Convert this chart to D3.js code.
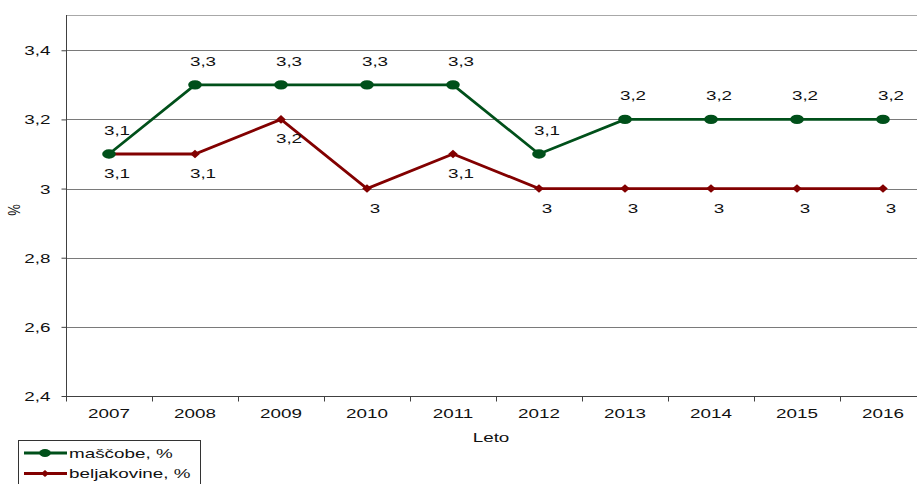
<!DOCTYPE html>
<html>
<head>
<meta charset="utf-8">
<script src="https://cdn.jsdelivr.net/npm/d3@7"></script>
<style>
  html, body { margin: 0; padding: 0; background: #fff; }
  svg { display: block; font-family: "Liberation Sans", Arial, sans-serif; }
</style>
</head>
<body>
<svg id="chart" width="917" height="484"></svg>
<script>
// Yearly shares (%) of fat and protein
const years = ["2007", "2008", "2009", "2010", "2011", "2012", "2013", "2014", "2015", "2016"];
const fatValues = [3.1, 3.3, 3.3, 3.3, 3.3, 3.1, 3.2, 3.2, 3.2, 3.2];
const proteinValues = [3.1, 3.1, 3.2, 3.0, 3.1, 3.0, 3.0, 3.0, 3.0, 3.0];
const yTicks = [2.4, 2.6, 2.8, 3.0, 3.2, 3.4];
const seriesNames = ["maščobe, %", "beljakovine, %"];

const fatColor = "#00501a";
const proteinColor = "#820000";
const textColor = "#111";
const SX = 1.45;          // wide horizontal stretch of the whole drawing
const FONT = 13;

const svg = d3.select("#chart");
const plot = { left: 66, right: 926, top: 15, bottom: 396 };

const x = d3.scaleBand().domain(years).range([plot.left, plot.right]);
const y = d3.scaleLinear().domain([2.4, 3.5]).range([plot.bottom, plot.top + 0.7]);
const cx = d => x(d) + x.bandwidth() / 2;
const fmt = v => d3.format(".1~f")(v).replace(".", ",");

// text placed at (px, py), stretched horizontally around its anchor
function wideText(parent, px, py, str, anchor) {
  return parent.append("text")
    .attr("transform", `translate(${px},${py}) scale(${SX},1)`)
    .attr("text-anchor", anchor || "middle")
    .attr("font-size", FONT).attr("fill", textColor)
    .text(str);
}

// plot frame top edge
svg.append("line")
  .attr("x1", plot.left).attr("x2", plot.right)
  .attr("y1", plot.top + 0.5).attr("y2", plot.top + 0.5)
  .attr("stroke", "#a8a8a8").attr("stroke-width", 1.2);

// horizontal gridlines
svg.append("g").selectAll("line").data(yTicks.slice(1)).join("line")
  .attr("x1", plot.left).attr("x2", plot.right)
  .attr("y1", d => Math.round(y(d)) + 0.5).attr("y2", d => Math.round(y(d)) + 0.5)
  .attr("stroke", "#7a7a7a").attr("stroke-width", 1);

// y axis
const yAxis = svg.append("g")
  .attr("transform", `translate(${plot.left + 0.5},0)`)
  .call(d3.axisLeft(y).tickValues(yTicks).tickSize(5).tickFormat(fmt));
yAxis.select(".domain").attr("stroke", "#404040").attr("d", `M0,${plot.top}V${plot.bottom}`);
yAxis.selectAll(".tick line").attr("stroke", "#404040");
yAxis.selectAll(".tick text").remove();
yAxis.selectAll(".tick").each(function (d) {
  wideText(d3.select(this), -16, 4.5, fmt(d), "end");
});

// x axis: ticks on band boundaries
const xAxis = svg.append("g").attr("transform", `translate(0,${plot.bottom + 0.5})`);
xAxis.append("line").attr("x1", plot.left).attr("x2", plot.right)
  .attr("stroke", "#404040");
xAxis.selectAll("line.tk").data(years).join("line").attr("class", "tk")
  .attr("x1", d => Math.round(x(d)) + 0.5).attr("x2", d => Math.round(x(d)) + 0.5)
  .attr("y1", 0).attr("y2", 5).attr("stroke", "#404040");
years.forEach(yr => wideText(xAxis, cx(yr), 21.5, yr));

// axis titles
wideText(svg, 491, 442, "Leto");
svg.append("text").attr("transform", "translate(20,210) rotate(-90) scale(1,1.3)")
  .attr("text-anchor", "middle").attr("font-size", FONT).attr("fill", textColor).text("%");

// series lines
const line = d3.line().x((d, i) => cx(years[i])).y(d => y(d));
svg.append("path").datum(proteinValues).attr("d", line)
  .attr("fill", "none").attr("stroke", proteinColor).attr("stroke-width", 2.8);
svg.append("path").datum(fatValues).attr("d", line)
  .attr("fill", "none").attr("stroke", fatColor).attr("stroke-width", 2.8);

// markers (stretched like the rest of the drawing)
const diamondPath = "M0,-4.3L3.3,0L0,4.3L-3.3,0Z";
svg.append("g").selectAll("path").data(proteinValues).join("path")
  .attr("d", diamondPath)
  .attr("transform", (d, i) => `translate(${cx(years[i])},${y(d)}) scale(${SX},1)`)
  .attr("fill", proteinColor);
svg.append("g").selectAll("ellipse").data(fatValues).join("ellipse")
  .attr("cx", (d, i) => cx(years[i])).attr("cy", d => y(d))
  .attr("rx", 4.7 * SX).attr("ry", 4.7)
  .attr("fill", fatColor);

// value labels
const fatLabels = svg.append("g");
fatValues.forEach((v, i) => wideText(fatLabels, cx(years[i]) + 8, y(v) - 19, fmt(v)));
const proteinLabels = svg.append("g");
proteinValues.forEach((v, i) => wideText(proteinLabels, cx(years[i]) + 8, y(v) + 24, fmt(v)));

// legend
const legend = svg.append("g");
legend.append("rect").attr("x", 18.5).attr("y", 440.5).attr("width", 182).attr("height", 60)
  .attr("fill", "#fff").attr("stroke", "#333").attr("stroke-width", 1);
const items = [
  { name: seriesNames[0], color: fatColor, shape: "circle" },
  { name: seriesNames[1], color: proteinColor, shape: "diamond" }
];
items.forEach((it, i) => {
  const yy = 453 + i * 20.5;
  legend.append("line").attr("x1", 24).attr("x2", 67).attr("y1", yy).attr("y2", yy)
    .attr("stroke", it.color).attr("stroke-width", 2.8);
  if (it.shape === "circle") {
    legend.append("ellipse").attr("cx", 45).attr("cy", yy)
      .attr("rx", 4 * SX).attr("ry", 4).attr("fill", it.color);
  } else {
    legend.append("path").attr("d", "M0,-3.5L2.8,0L0,3.5L-2.8,0Z")
      .attr("transform", `translate(45,${yy}) scale(${SX},1)`).attr("fill", it.color);
  }
  wideText(legend, 69, yy + 4.5, it.name, "start");
});
</script>
</body>
</html>
